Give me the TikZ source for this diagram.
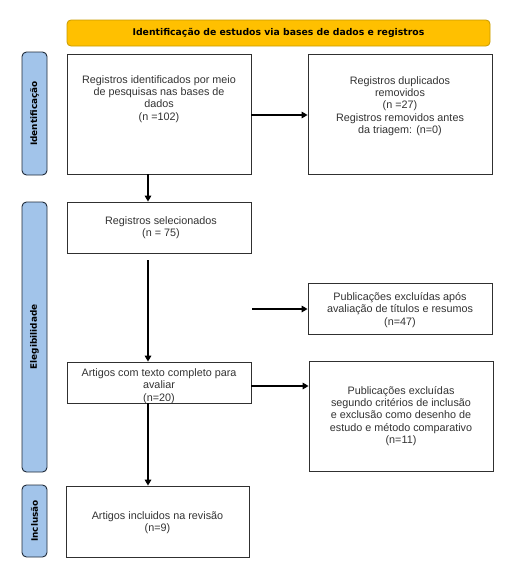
\documentclass[tikz,border=0pt]{standalone}
\usepackage{fontspec}
\setmainfont{Liberation Sans}
\newfontfamily\tabfont{DejaVu Sans}
\usetikzlibrary{arrows.meta}
\definecolor{bannerfill}{HTML}{FFC000}
\definecolor{bannerdraw}{HTML}{C89B00}
\definecolor{tabfill}{HTML}{A2C4EA}
\definecolor{tabdraw}{HTML}{1F2A38}
\definecolor{boxdraw}{HTML}{303030}
\definecolor{boxtext}{HTML}{333333}
\tikzset{
  box/.style={draw=boxdraw, line width=0.8pt, fill=white, inner sep=0pt},
  boxtxt/.style={align=center, text=boxtext, font=\fontsize{10.8}{12.3}\selectfont, inner sep=0pt},
  tabbox/.style={draw=tabdraw, fill=tabfill, line width=0.9pt, rounded corners=4.5pt, minimum width=25pt, inner sep=0pt},
  tabtxt/.style={rotate=90, font=\tabfont\bfseries\fontsize{8.9}{10}\selectfont, text=black},
  banner/.style={draw=bannerdraw, fill=bannerfill, line width=0.8pt, rounded corners=4pt, minimum width=423pt, minimum height=26pt, inner sep=0pt,
    font=\tabfont\bfseries\fontsize{9.3}{10}\selectfont},
  flow/.style={line width=1.6pt, -{Triangle[length=6pt,width=6.5pt]}}
}
\begin{document}
\begin{tikzpicture}[x=1pt,y=-1pt]
\useasboundingbox (0,0) rectangle (517,570);
% banner
\node[banner] (ban) at (278.5,33) {Identificação de estudos via bases de dados e registros};
% side tabs
\node[tabbox, minimum height=123pt] (t1) at (34.5,113.5) {};
\node[tabtxt] (t1t) at (t1.center) {Identificação};
\node[tabbox, minimum height=270pt] (t2) at (34.5,337) {};
\node[tabtxt] (t2t) at (t2.center) {Elegibilidade};
\node[tabbox, minimum height=72pt] (t3) at (34.5,521) {};
\node[tabtxt] (t3t) at (t3.center) {Inclusão};
% boxes
\node[box, minimum width=184pt, minimum height=120pt] (b1) at (159,114) {};
\node[boxtxt] (b1t) at (159,99) {Registros identificados por meio\\de pesquisas nas bases de\\dados\\(n =102)};
\node[box, minimum width=184pt, minimum height=120pt] (b2) at (400,114) {};
\node[boxtxt] (b2t) at (400,106) {Registros duplicados\\removidos\\(n =27)\\Registros removidos antes\\da triagem: (n=0)};
\node[box, minimum width=184pt, minimum height=51pt] (b3) at (159,227.5) {};
\node[boxtxt] (b3t) at (161,228) {Registros selecionados\\(n = 75)};
\node[box, minimum width=184pt, minimum height=51pt] (b5) at (400,308.5) {};
\node[boxtxt] (b5t) at (400,310) {Publicações excluídas após\\avaliação de títulos e resumos\\(n=47)};
\node[box, minimum width=184pt, minimum height=41pt] (b4) at (159,382.5) {};
\node[boxtxt] (b4t) at (159,386) {Artigos com texto completo para\\avaliar\\(n=20)};
\node[box, minimum width=184pt, minimum height=110pt] (b6) at (401,416) {};
\node[boxtxt] (b6t) at (401,416) {Publicações excluídas\\segundo critérios de inclusão\\e exclusão como desenho de\\estudo e método comparativo\\(n=11)};
\node[box, minimum width=183pt, minimum height=71pt] (b7) at (157.5,521.5) {};
\node[boxtxt] (b7t) at (157.5,522.5) {Artigos incluidos na revisão\\(n=9)};
% connectors
\coordinate (ax) at (148,0);
\coordinate (s3) at (148,260);
\coordinate (s5) at (252,309);
\draw[flow] (b1.east |- 0,115) -- (b2.west |- 0,115);
\draw[flow] (b1.south -| ax) -- (b3.north -| ax);
\draw[flow] (s3) -- (b4.north -| ax);
\draw[flow] (s5) -- (b5.west |- s5);
\draw[flow] (b4.east |- 0,386) -- (b6.west |- 0,386);
\draw[flow] (b4.south -| ax) -- (b7.north -| ax);
\end{tikzpicture}
\end{document}
